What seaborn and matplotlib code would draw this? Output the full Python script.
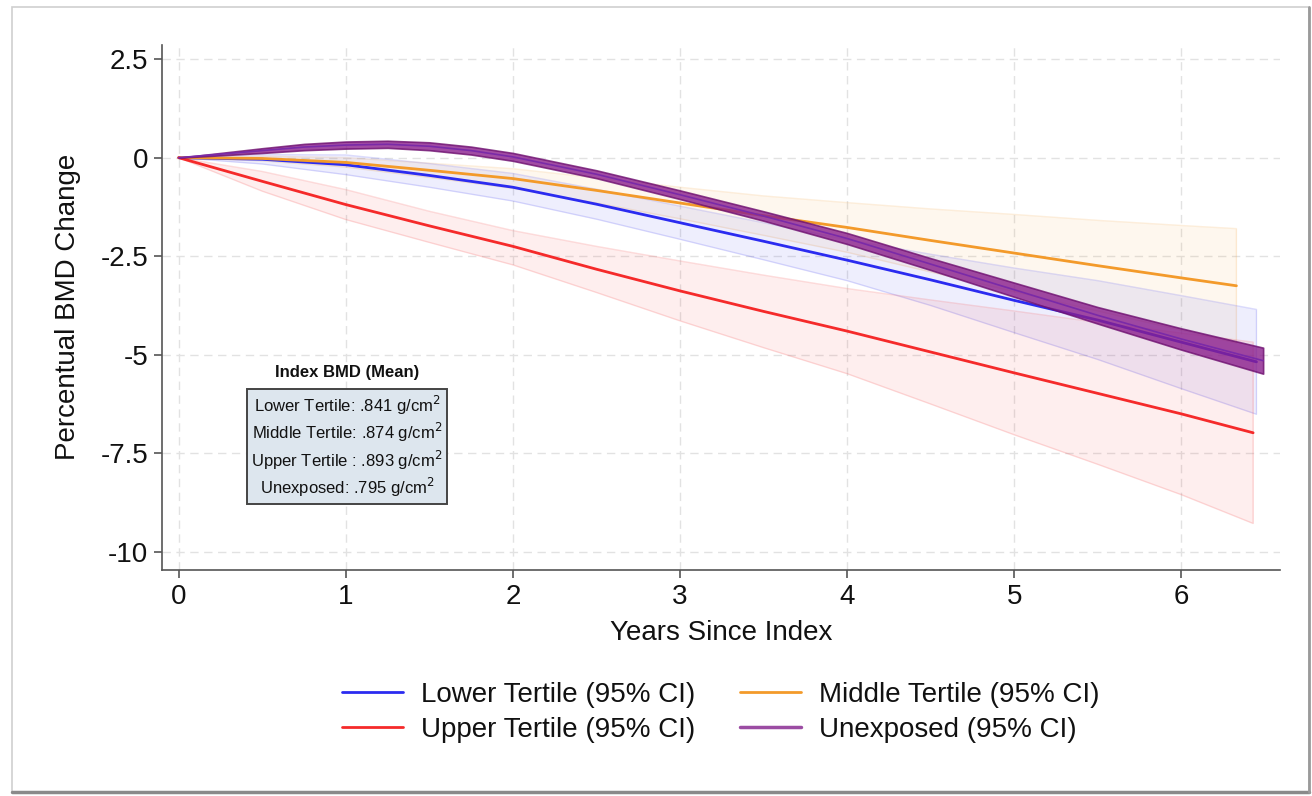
import numpy as np
import pandas as pd
import seaborn as sns
from matplotlib import pyplot as plt
from matplotlib.lines import Line2D
from matplotlib.patches import Rectangle

# values
x_unexp = [0, 0.25, 0.5, 0.75, 1, 1.25, 1.5, 1.75, 2, 2.5, 3, 3.5, 4, 4.5, 5, 5.5, 6, 6.49]
y_unexp = [0, 0.09, 0.18, 0.27, 0.32, 0.34, 0.29, 0.18, 0.02, -0.42, -0.94, -1.48, -2.05, -2.7, -3.35, -4.0, -4.6, -5.15]
hi_unexp = [0, 0.12, 0.24, 0.35, 0.41, 0.43, 0.39, 0.28, 0.12, -0.32, -0.83, -1.36, -1.91, -2.55, -3.17, -3.79, -4.33, -4.82]
lo_unexp = [0, 0.06, 0.12, 0.19, 0.23, 0.25, 0.19, 0.08, -0.08, -0.52, -1.05, -1.60, -2.19, -2.85, -3.53, -4.21, -4.87, -5.48]

x_lower = [0, 0.5, 1, 1.5, 2, 2.5, 3, 3.5, 4, 4.5, 5, 5.5, 6, 6.45]
y_lower = [0, -0.04, -0.18, -0.45, -0.75, -1.18, -1.65, -2.12, -2.6, -3.1, -3.62, -4.12, -4.68, -5.18]
hi_lower = [0, 0.08, 0.07, -0.15, -0.40, -0.80, -1.23, -1.65, -2.08, -2.45, -2.80, -3.12, -3.50, -3.85]
lo_lower = [0, -0.16, -0.43, -0.75, -1.10, -1.56, -2.07, -2.59, -3.12, -3.75, -4.44, -5.12, -5.86, -6.51]

x_middle = [0, 0.5, 1, 1.5, 2, 2.5, 3, 3.5, 4, 4.5, 5, 5.5, 6, 6.33]
y_middle = [0, -0.02, -0.12, -0.32, -0.53, -0.83, -1.15, -1.47, -1.77, -2.1, -2.42, -2.74, -3.05, -3.25]
hi_middle = [0, 0.04, 0.0, -0.14, -0.28, -0.51, -0.75, -0.97, -1.14, -1.30, -1.44, -1.59, -1.72, -1.80]
lo_middle = [0, -0.08, -0.24, -0.50, -0.78, -1.15, -1.55, -1.97, -2.40, -2.90, -3.40, -3.89, -4.38, -4.70]

x_upper = [0, 0.5, 1, 1.5, 2, 2.5, 3, 3.5, 4, 4.5, 5, 5.5, 6, 6.43]
y_upper = [0, -0.6, -1.19, -1.73, -2.25, -2.83, -3.38, -3.9, -4.4, -4.93, -5.46, -5.98, -6.5, -6.98]
hi_upper = [0, -0.35, -0.81, -1.36, -1.85, -2.25, -2.62, -2.98, -3.32, -3.61, -3.89, -4.18, -4.45, -4.68]
lo_upper = [0, -0.85, -1.57, -2.15, -2.72, -3.42, -4.14, -4.82, -5.48, -6.25, -7.03, -7.78, -8.55, -9.28]

colors = {"Lower Tertile": "#2b2bf0", "Middle Tertile": "#f39a2a",
          "Upper Tertile": "#f52a2a", "Unexposed": "#8a1f8c"}

index_bmd = ["Lower Tertile: .841 g/cm$^2$", "Middle Tertile: .874 g/cm$^2$",
             "Upper Tertile : .893 g/cm$^2$", "Unexposed: .795 g/cm$^2$"]

y_ticks = [2.5, 0, -2.5, -5, -7.5, -10]
y_ticklabels = ["2.5", "0", "-2.5", "-5", "-7.5", "-10"]
x_ticks = [0, 1, 2, 3, 4, 5, 6]

series = {
    "Lower Tertile": (x_lower, y_lower, lo_lower, hi_lower),
    "Middle Tertile": (x_middle, y_middle, lo_middle, hi_middle),
    "Upper Tertile": (x_upper, y_upper, lo_upper, hi_upper),
    "Unexposed": (x_unexp, y_unexp, lo_unexp, hi_unexp),
}

df = pd.concat([pd.DataFrame({"years": v[0], "change": v[1], "group": k})
                for k, v in series.items()], ignore_index=True)

sns.set_style("white")
plt.rcParams['font.family'] = ['Liberation Sans', 'DejaVu Sans']
plt.rcParams['axes.unicode_minus'] = False
plt.rcParams['text.color'] = "#111111"
plt.rcParams['axes.labelcolor'] = "#111111"
plt.rcParams['xtick.color'] = "#111111"
plt.rcParams['ytick.color'] = "#111111"

fig = plt.figure(figsize=(13.12, 7.96), dpi=100)
ax = fig.add_axes([0.1235, 0.284, 0.852, 0.66])

# confidence bands
for g in ["Middle Tertile", "Lower Tertile", "Upper Tertile"]:
    xs, ys, lo, hi = series[g]
    ax.fill_between(xs, lo, hi, facecolor=colors[g], alpha=0.08, zorder=2)
    ax.fill_between(xs, lo, hi, facecolor="none", edgecolor=colors[g],
                    alpha=0.16, linewidth=1, zorder=2)

sns.lineplot(data=df[df.group != "Unexposed"], x="years", y="change", hue="group",
             palette=colors, linewidth=2, ax=ax, legend=False, zorder=3)

xs, ys, lo, hi = series["Unexposed"]
ax.fill_between(xs, lo, hi, facecolor="#8a1f8c", alpha=0.8, edgecolor="#6e1070",
                linewidth=1.2, zorder=4)
sns.lineplot(x=xs, y=ys, color="#7a2aa8", linewidth=1.2, ax=ax, zorder=5)

ax.set_xlim(-0.1, 6.59)
ax.set_ylim(-10.46, 2.87)
ax.set_xticks(x_ticks)
ax.set_yticks(y_ticks)
ax.set_yticklabels(y_ticklabels)
ax.grid(True, color="#e2e2e2", linestyle=(0, (6, 4)), linewidth=1)
ax.set_axisbelow(True)
for s in ["top", "right"]:
    ax.spines[s].set_visible(False)
for s in ["left", "bottom"]:
    ax.spines[s].set_color("#555555")
    ax.spines[s].set_linewidth(1.2)
ax.tick_params(axis="both", direction="out", length=6, width=1.2, color="#555555",
               labelsize=20, pad=4, left=True, bottom=True)
ax.set_xlabel("Years Since Index", fontsize=20, labelpad=7)
ax.set_ylabel("Percentual BMD Change", fontsize=20, labelpad=14)

# index BMD box
ax.text(0.1655, 0.376, "Index BMD (Mean)", transform=ax.transAxes, ha="center",
        va="center", fontsize=12, fontweight="bold")
ax.text(0.1655, 0.235, "\n".join(index_bmd), transform=ax.transAxes, ha="center",
        va="center", fontsize=12, linespacing=1.25,
        bbox=dict(boxstyle="square,pad=0.25", facecolor="#dde6ee",
                  edgecolor="#444444", linewidth=1.4))

handles = [Line2D([], [], color=colors["Lower Tertile"], lw=2),
           Line2D([], [], color=colors["Upper Tertile"], lw=2),
           Line2D([], [], color=colors["Middle Tertile"], lw=2),
           Line2D([], [], color="#9b4ca3", lw=2.5)]
labels = ["Lower Tertile (95% CI)", "Upper Tertile (95% CI)",
          "Middle Tertile (95% CI)", "Unexposed (95% CI)"]
ax.legend(handles, labels, ncol=2, loc="upper center", bbox_to_anchor=(0.5, -0.165),
          frameon=False, fontsize=20, handlelength=2.2, columnspacing=1.6,
          handletextpad=0.65, labelspacing=0.33)

# picture frame
fig.patches.append(Rectangle((12 / 1312, 4 / 796), 1297 / 1312, 785 / 796,
                             transform=fig.transFigure, fill=False,
                             edgecolor="#cfcfcf", linewidth=1.2))
fig.lines.append(Line2D([12 / 1312, 1309 / 1312], [4 / 796, 4 / 796],
                        transform=fig.transFigure, color="#8a8a8a", linewidth=2.5))
fig.lines.append(Line2D([1309 / 1312, 1309 / 1312], [4 / 796, 789 / 796],
                        transform=fig.transFigure, color="#9a9a9a", linewidth=2))

fig.savefig("out.png", dpi=100)
